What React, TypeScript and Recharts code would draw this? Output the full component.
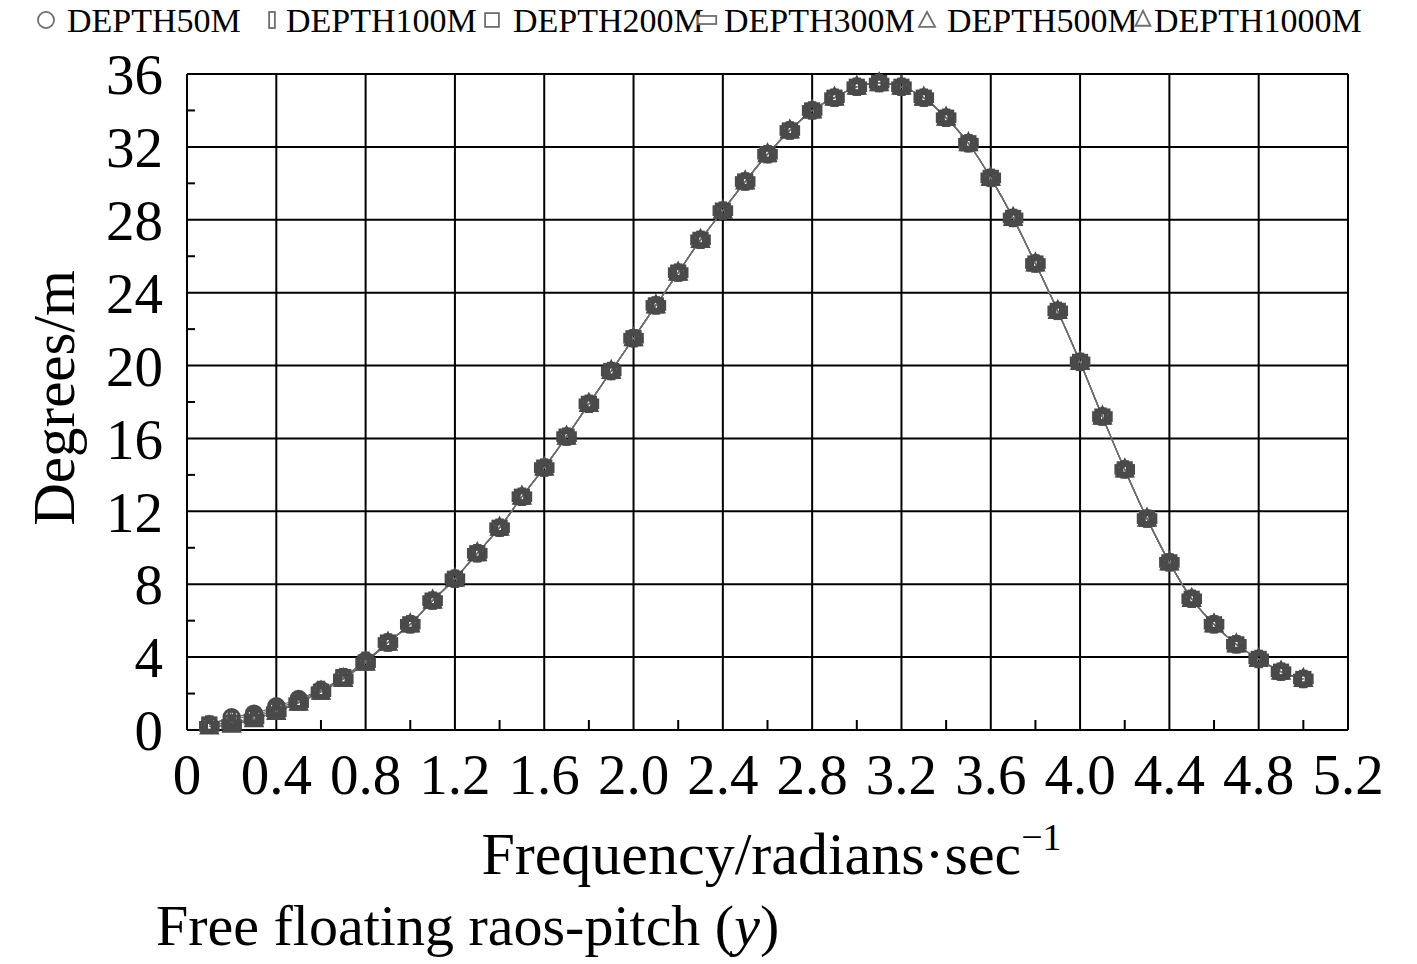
import React from "react";
import {
  LineChart,
  Line,
  XAxis,
  YAxis,
  CartesianGrid,
  ReferenceLine,
} from "recharts";

// frequency, rad/s
const FREQ = [
  0.1, 0.2, 0.3, 0.4, 0.5, 0.6, 0.7, 0.8, 0.9, 1.0, 1.1, 1.2, 1.3, 1.4, 1.5,
  1.6, 1.7, 1.8, 1.9, 2.0, 2.1, 2.2, 2.3, 2.4, 2.5, 2.6, 2.7, 2.8, 2.9, 3.0,
  3.1, 3.2, 3.3, 3.4, 3.5, 3.6, 3.7, 3.8, 3.9, 4.0, 4.1, 4.2, 4.3, 4.4, 4.5,
  4.6, 4.7, 4.8, 4.9, 5.0,
];

// all depths sit on the same curve from 0.9 rad/s on
const COMMON = [
  4.8, 5.8, 7.1, 8.3, 9.7, 11.1, 12.8, 14.4, 16.1, 17.9, 19.7, 21.5, 23.3,
  25.1, 26.9, 28.5, 30.1, 31.6, 32.9, 34.0, 34.7, 35.3, 35.5, 35.3, 34.7, 33.6,
  32.2, 30.3, 28.1, 25.6, 23.0, 20.2, 17.2, 14.3, 11.6, 9.2, 7.2, 5.8, 4.7,
  3.9, 3.2, 2.8,
];

// low frequency part (0.1 - 0.8) differs a little by depth
const LOW_50M = [0.3, 0.7, 0.9, 1.3, 1.7, 2.2, 2.9, 3.8];
const LOW_100M = [0.3, 0.6, 0.8, 1.2, 1.6, 2.2, 2.9, 3.8];
const LOW_200M = [0.3, 0.4, 0.7, 1.1, 1.5, 2.1, 2.9, 3.7];
const LOW_300M = [0.2, 0.3, 0.6, 1.0, 1.5, 2.1, 2.8, 3.7];
const LOW_500M = [0.2, 0.3, 0.6, 1.0, 1.5, 2.1, 2.8, 3.7];
const LOW_1000M = [0.2, 0.3, 0.6, 1.0, 1.5, 2.1, 2.8, 3.7];

const DEPTH50M = [...LOW_50M, ...COMMON];
const DEPTH100M = [...LOW_100M, ...COMMON];
const DEPTH200M = [...LOW_200M, ...COMMON];
const DEPTH300M = [...LOW_300M, ...COMMON];
const DEPTH500M = [...LOW_500M, ...COMMON];
const DEPTH1000M = [...LOW_1000M, ...COMMON];

const SERIES_NAMES = [
  "DEPTH50M",
  "DEPTH100M",
  "DEPTH200M",
  "DEPTH300M",
  "DEPTH500M",
  "DEPTH1000M",
];
const SERIES_VALUES = [
  DEPTH50M,
  DEPTH100M,
  DEPTH200M,
  DEPTH300M,
  DEPTH500M,
  DEPTH1000M,
];
const SERIES_SHAPES = ["circle", "tall", "square", "wide", "tri", "tri2"];

const X_TICKS = [0, 0.4, 0.8, 1.2, 1.6, 2.0, 2.4, 2.8, 3.2, 3.6, 4.0, 4.4, 4.8, 5.2];
const X_MINOR = [0.2, 0.6, 1.0, 1.4, 1.8, 2.2, 2.6, 3.0, 3.4, 3.8, 4.2, 4.6, 5.0];
const Y_TICKS = [0, 4, 8, 12, 16, 20, 24, 28, 32, 36];
const Y_MINOR = [2, 6, 10, 14, 18, 22, 26, 30, 34];

const data = FREQ.map((f, i) => {
  const row: any = { freq: f };
  SERIES_NAMES.forEach((name, j) => {
    row[name] = SERIES_VALUES[j][i];
  });
  return row;
});

const FONT = "'Liberation Serif', 'Times New Roman', serif";

// layout
const W = 1417;
const H = 964;
const PLOT_LEFT = 187;
const PLOT_TOP = 74;
const PLOT_RIGHT = 1348;
const PLOT_BOTTOM = 730;
const MINOR_LEN_Y = (10 * 36) / (PLOT_BOTTOM - PLOT_TOP);
const MINOR_LEN_X = (8 * 5.2) / (PLOT_RIGHT - PLOT_LEFT);

const Marker = ({ shape, cx, cy, s, stroke, sw, fill }: any) => {
  const common = { stroke, strokeWidth: sw, fill };
  switch (shape) {
    case "circle":
      return <circle cx={cx} cy={cy} r={7 * s} {...common} />;
    case "tall":
      return <rect x={cx - 2.5 * s} y={cy - 7 * s} width={5 * s} height={14 * s} {...common} />;
    case "square":
      return <rect x={cx - 6 * s} y={cy - 6 * s} width={12 * s} height={12 * s} {...common} />;
    case "wide":
      return <rect x={cx - 8 * s} y={cy - 3.5 * s} width={16 * s} height={7 * s} {...common} />;
    case "tri":
      return (
        <polygon
          points={`${cx},${cy - 7 * s} ${cx - 7 * s},${cy + 6 * s} ${cx + 7 * s},${cy + 6 * s}`}
          {...common}
        />
      );
    default:
      return (
        <polygon
          points={`${cx},${cy - 8 * s} ${cx - 6.5 * s},${cy + 5 * s} ${cx + 6.5 * s},${cy + 5 * s}`}
          {...common}
        />
      );
  }
};

const makeDot = (shape: string) => (props: any) => {
  const { cx, cy, key } = props;
  if (cx == null || cy == null) return <g key={key} />;
  return (
    <g key={key}>
      <Marker shape={shape} cx={cx} cy={cy} s={1.1} stroke="#4a4a4a" sw={3} fill="none" />
    </g>
  );
};

// legend layout (marker centre, text start)
const LEGEND_MARK_X = [46, 272, 492, 707, 927, 1143];
const LEGEND_TEXT_X = [67, 286, 513, 724, 947, 1154];

const Legend = () => (
  <svg width={W} height={44} style={{ position: "absolute", left: 0, top: 0 }}>
    {SERIES_NAMES.map((name, i) => (
      <g key={name}>
        <Marker
          shape={SERIES_SHAPES[i]}
          cx={LEGEND_MARK_X[i]}
          cy={20}
          s={1.15}
          stroke="#6f6f6f"
          sw={1.8}
          fill="#fff"
        />
        <text
          x={LEGEND_TEXT_X[i]}
          y={32}
          fontFamily={FONT}
          fontSize={34}
          fill="#000"
        >
          {name}
        </text>
      </g>
    ))}
  </svg>
);

const xFmt = (v: number) => (v === 0 ? "0" : v.toFixed(1));

export default function App() {
  return (
    <div
      style={{
        position: "absolute",
        left: 0,
        top: 0,
        width: W,
        height: H,
        background: "#fff",
        fontFamily: FONT,
      }}
    >
      <LineChart
        width={W}
        height={H}
        data={data}
        margin={{ top: PLOT_TOP, right: W - PLOT_RIGHT, left: 87, bottom: 174 }}
      >
        <CartesianGrid stroke="#000" strokeWidth={2} />
        <XAxis
          type="number"
          dataKey="freq"
          domain={[0, 5.2]}
          ticks={X_TICKS}
          tickFormatter={xFmt}
          interval={0}
          height={60}
          tickSize={0}
          tickMargin={24}
          tickLine={false}
          axisLine={{ stroke: "#000", strokeWidth: 2 }}
          tick={{ fill: "#000", fontSize: 57, fontFamily: FONT }}
          label={(p: any) => {
            const vb = p.viewBox;
            const cx = vb.x + vb.width / 2 + 4;
            return (
              <text
                x={cx}
                y={874}
                textAnchor="middle"
                fontFamily={FONT}
                fontSize={60}
                fill="#000"
              >
                Frequency/radians·sec
                <tspan dy={-24} fontSize={38}>
                  −1
                </tspan>
              </text>
            );
          }}
        />
        <YAxis
          type="number"
          domain={[0, 36]}
          ticks={Y_TICKS}
          interval={0}
          width={100}
          tickSize={8}
          tickMargin={16}
          tickLine={false}
          axisLine={{ stroke: "#000", strokeWidth: 2 }}
          tick={{ fill: "#000", fontSize: 57, fontFamily: FONT }}
          label={() => (
            <text
              x={74}
              y={398}
              transform="rotate(-90, 74, 398)"
              textAnchor="middle"
              fontFamily={FONT}
              fontSize={59}
              fill="#000"
            >
              Degrees/m
            </text>
          )}
        />
        {X_MINOR.map((v) => (
          <ReferenceLine
            key={`xm${v}`}
            segment={[
              { x: v, y: 0 },
              { x: v, y: MINOR_LEN_Y },
            ]}
            stroke="#000"
            strokeWidth={2}
          />
        ))}
        {Y_MINOR.map((v) => (
          <ReferenceLine
            key={`ym${v}`}
            segment={[
              { x: 0, y: v },
              { x: MINOR_LEN_X, y: v },
            ]}
            stroke="#000"
            strokeWidth={2}
          />
        ))}
        {SERIES_NAMES.map((name, i) => (
          <Line
            key={name}
            type="monotone"
            dataKey={name}
            stroke="#6e6e6e"
            strokeWidth={1.2}
            dot={makeDot(SERIES_SHAPES[i])}
            activeDot={false}
            isAnimationActive={false}
          />
        ))}
      </LineChart>
      <Legend />
      <svg width={W} height={70} style={{ position: "absolute", left: 0, top: 894 }}>
        <text x={156} y={51} fontFamily={FONT} fontSize={58} fill="#000">
          Free floating raos-pitch (<tspan fontStyle="italic">y</tspan>)
        </text>
      </svg>
    </div>
  );
}
